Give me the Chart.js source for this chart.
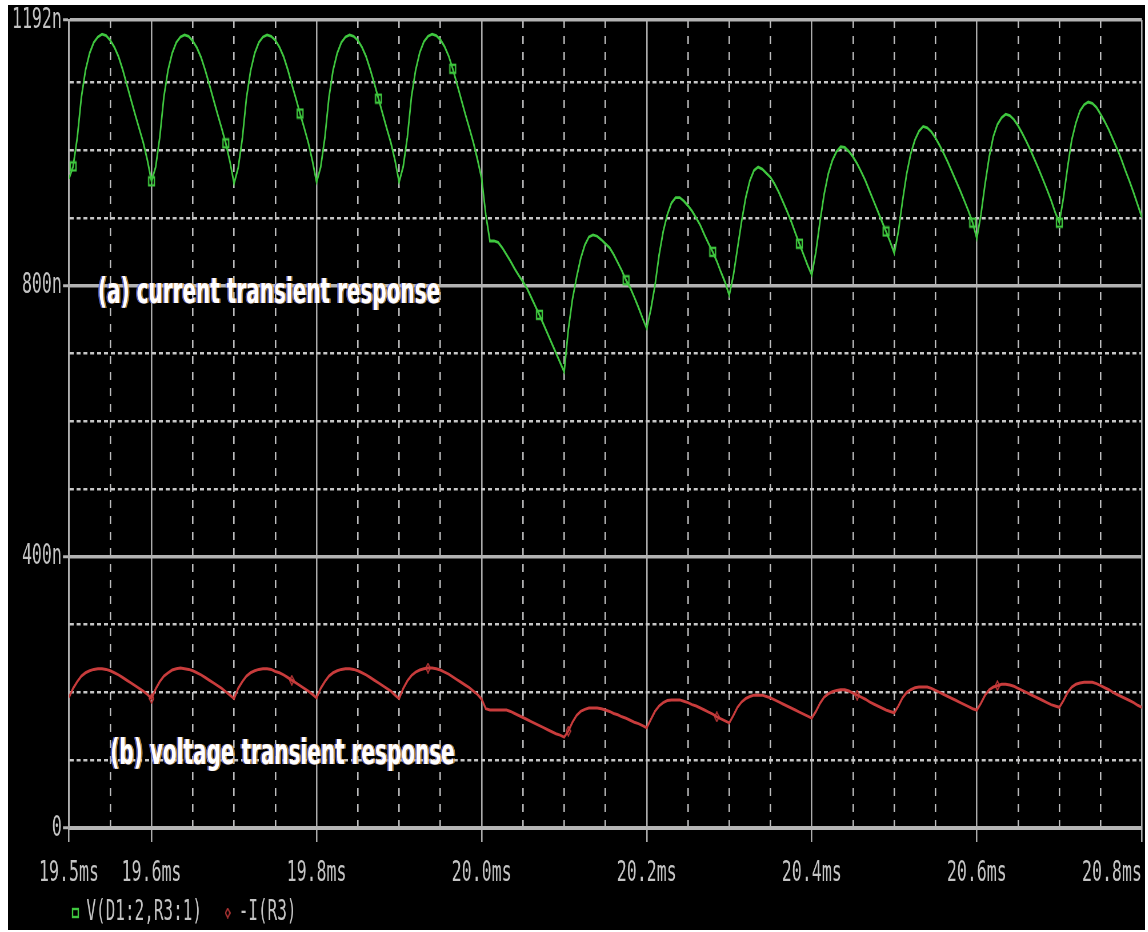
<!DOCTYPE html>
<html>
<head>
<meta charset="utf-8">
<title>Transient response</title>
<script src="https://cdn.jsdelivr.net/npm/chart.js@4.4.1/dist/chart.umd.min.js"></script>
<style>
  html, body { margin: 0; padding: 0; background: #fff; }
  #scope { position: absolute; left: 8px; top: 5px; width: 1137px; height: 925px; background: #000; overflow: hidden; }
  #scope canvas { display: block; }
</style>
</head>
<body>
<div id="scope"><canvas id="trace" width="1990" height="925" style="width:1137px;height:925px"></canvas></div>
<script>
// Sweep window and sampling of both traces, in ms
const sweepStart = 19.5;
const sweepEnd = 20.8;
const sampleStep = 0.005;

// V(D1:2,R3:1), one row per 0.1 ms (20 samples), in n
const voltageTrace = [
  958, 976, 1018, 1078, 1118, 1143, 1159, 1167, 1171, 1169, 1162, 1152, 1138, 1119, 1097, 1075, 1053, 1032, 1011, 985,
  954, 975, 1019, 1079, 1118, 1143, 1159, 1167, 1170, 1168, 1161, 1151, 1137, 1118, 1097, 1075, 1053, 1032, 1010, 983,
  951, 974, 1017, 1077, 1117, 1143, 1159, 1167, 1170, 1168, 1162, 1152, 1138, 1119, 1097, 1076, 1054, 1033, 1011, 984,
  953, 975, 1018, 1078, 1118, 1143, 1159, 1167, 1170, 1168, 1162, 1152, 1138, 1119, 1098, 1076, 1054, 1032, 1011, 985,
  953, 976, 1019, 1079, 1118, 1144, 1160, 1168, 1171, 1169, 1163, 1153, 1139, 1120, 1098, 1076, 1054, 1033, 1011, 986,
  958, 905, 866, 866, 864, 856, 846, 836, 825, 815, 806, 796, 783, 770, 757, 743, 729, 715, 701, 687,
  673, 735, 780, 812, 840, 860, 872, 875, 873, 868, 862, 856, 846, 834, 822, 808, 797, 783, 768, 752,
  737, 765, 800, 845, 880, 905, 922, 930, 930, 925, 918, 910, 900, 889, 875, 862, 850, 836, 820, 805,
  786, 815, 855, 895, 930, 955, 970, 975, 972, 966, 960, 950, 938, 924, 910, 895, 878, 862, 846, 830,
  816, 850, 895, 935, 965, 985, 998, 1005, 1004, 998, 990, 980, 968, 955, 940, 925, 910, 895, 880, 865,
  848, 880, 925, 965, 995, 1015, 1028, 1035, 1033, 1027, 1018, 1007, 995, 982, 968, 954, 940, 925, 910, 893,
  870, 905, 950, 990, 1020, 1038, 1048, 1053, 1051, 1045, 1036, 1025, 1013, 1000, 986, 972, 957, 942, 926, 908,
  893, 930, 975, 1015, 1040, 1058, 1067, 1071, 1069, 1063, 1053, 1042, 1030, 1016, 1002, 987, 970, 954, 937, 919,
  901
];

// -I(R3), same sampling, in n
const currentTrace = [
  193, 206, 216, 224, 229, 232, 234, 235, 235, 234, 232, 229, 226, 222, 218, 214, 210, 206, 202, 197,
  191, 205, 216, 224, 229, 233, 235, 236, 235, 234, 232, 229, 226, 222, 218, 214, 210, 206, 201, 196,
  191, 206, 216, 224, 229, 232, 234, 235, 235, 234, 231, 229, 226, 222, 218, 214, 210, 206, 202, 197,
  192, 206, 216, 224, 229, 232, 234, 235, 235, 234, 232, 229, 226, 222, 218, 214, 210, 206, 202, 196,
  191, 206, 217, 225, 230, 233, 235, 236, 236, 235, 233, 230, 227, 223, 219, 215, 211, 207, 202, 197,
  190, 176, 174, 174, 174, 174, 174, 172, 169, 166, 163, 160, 157, 154, 151, 148, 145, 142, 139, 137,
  134, 143, 156, 166, 172, 175, 177, 177, 177, 176, 174, 172, 169, 167, 164, 162, 159, 156, 154, 151,
  148, 160, 172, 180, 185, 188, 189, 189, 189, 187, 185, 182, 180, 177, 174, 171, 168, 164, 161, 158,
  155, 166, 178, 186, 191, 194, 196, 196, 196, 194, 192, 189, 186, 183, 180, 177, 174, 171, 168, 165,
  162, 172, 184, 193, 198, 201, 203, 204, 204, 202, 199, 196, 193, 190, 186, 183, 180, 177, 174, 172,
  170, 180, 192, 200, 204, 207, 208, 208, 208, 206, 203, 200, 197, 194, 191, 188, 185, 182, 179, 176,
  174, 184, 196, 204, 208, 210, 212, 212, 211, 209, 206, 203, 200, 197, 194, 191, 188, 185, 182, 180,
  178, 188, 200, 208, 212, 214, 215, 215, 215, 213, 210, 207, 204, 200, 197, 194, 191, 188, 185, 181,
  178
];

// Where the trace symbols sit along each curve (ms)
const voltageMarkerTimes = [19.505, 19.6, 19.69, 19.78, 19.875, 19.965, 20.07, 20.175, 20.28, 20.385, 20.49, 20.595, 20.7];
const currentMarkerTimes = [19.6, 19.77, 19.935, 20.105, 20.285, 20.455, 20.625];

// Time axis grid and labels
const xGridTimes = [19.5, 19.55, 19.6, 19.65, 19.7, 19.75, 19.8, 19.85, 19.9, 19.95, 20.0, 20.05, 20.1,
  20.15, 20.2, 20.25, 20.3, 20.35, 20.4, 20.45, 20.5, 20.55, 20.6, 20.65, 20.7, 20.75, 20.8];
const xSolidTimes = [19.5, 19.6, 19.8, 20.0, 20.2, 20.4, 20.6, 20.8];
const xLabelTimes = [19.5, 19.6, 19.8, 20.0, 20.2, 20.4, 20.6, 20.8];
const xLabelTexts = ['19.5ms', '19.6ms', '19.8ms', '20.0ms', '20.2ms', '20.4ms', '20.6ms', '20.8ms'];

// Value axis grid and labels
const yGridValues = [0, 100, 200, 300, 400, 500, 600, 700, 800, 900, 1000, 1100, 1192];
const yLabelValues = [0, 400, 800, 1192];
const yLabelTexts = ['0', '400n', '800n', '1192n'];

// Captions written over the plot
const captionTexts = ['(a) current transient response', '(b) voltage transient response'];
const captionTimes = [19.535, 19.55];
const captionLevels = [774, 95];

// ---------------------------------------------------------------------------
// The bitmap is 1990 px wide but shown 1137 px wide, so everything is drawn
// horizontally compressed like the scope display. Sizes below are bitmap px.
const monoFont = '"DejaVu Sans Mono", "Liberation Mono", monospace';
const labelGrey = '#c4c4c4';
const solidGrey = '#ababab';
const dashGrey = '#bcbcbd';
const greenTrace = '#3fc63f';
const redTrace = '#c83c3c';

const near = (a, b) => Math.abs(a - b) < 1e-6;
const inList = (list, v) => list.some(t => near(t, v));

const sampleTimes = voltageTrace.map((_, i) => +(sweepStart + i * sampleStep).toFixed(3));
const indexOfTime = t => Math.round((t - sweepStart) / sampleStep);
const voltageMarks = new Set(voltageMarkerTimes.map(indexOfTime));
const currentMarks = new Set(currentMarkerTimes.map(indexOfTime));

function squareSymbol(color) {
  const c = document.createElement('canvas');
  c.width = 14; c.height = 12;
  const g = c.getContext('2d');
  g.strokeStyle = color; g.lineWidth = 2.4;
  g.strokeRect(2, 2, 10, 8);
  return c;
}
function diamondSymbol(color) {
  const c = document.createElement('canvas');
  c.width = 10; c.height = 11;
  const g = c.getContext('2d');
  g.strokeStyle = color; g.lineWidth = 1.8;
  g.beginPath();
  g.moveTo(5, 1); g.lineTo(9, 5.5); g.lineTo(5, 10); g.lineTo(1, 5.5); g.closePath();
  g.stroke();
  return c;
}
const greenSymbol = squareSymbol(greenTrace);
const redSymbol = diamondSymbol(redTrace);

const captionPlugin = {
  id: 'captions',
  afterDraw(chart) {
    const { ctx, scales: { x, y } } = chart;
    ctx.save();
    ctx.font = 'bold 35px "DejaVu Sans", sans-serif';
    ctx.textAlign = 'left';
    ctx.textBaseline = 'alphabetic';
    captionTexts.forEach((text, i) => {
      const px = x.getPixelForValue(captionTimes[i]);
      const py = y.getPixelForValue(captionLevels[i]);
      ctx.fillStyle = 'rgba(90,120,255,0.75)';
      ctx.fillText(text, px - 2.5, py);
      ctx.fillStyle = 'rgba(255,176,64,0.75)';
      ctx.fillText(text, px + 2.5, py);
      ctx.fillStyle = '#ffffff';
      ctx.fillText(text, px, py);
    });
    ctx.restore();
  }
};

new Chart(document.getElementById('trace'), {
  type: 'line',
  data: {
    datasets: [
      {
        label: 'V(D1:2,R3:1)',
        data: voltageTrace.map((v, i) => ({ x: sampleTimes[i], y: v })),
        borderColor: greenTrace,
        backgroundColor: '#000',
        borderWidth: 2.8,
        pointStyle: greenSymbol,
        pointRadius: c => voltageMarks.has(c.dataIndex) ? 5 : 0,
        pointHoverRadius: 0,
        tension: 0,
        fill: false
      },
      {
        label: '-I(R3)',
        data: currentTrace.map((v, i) => ({ x: sampleTimes[i], y: v })),
        borderColor: redTrace,
        backgroundColor: '#000',
        borderWidth: 3,
        pointStyle: redSymbol,
        pointRadius: c => currentMarks.has(c.dataIndex) ? 5 : 0,
        pointHoverRadius: 0,
        tension: 0,
        fill: false
      }
    ]
  },
  options: {
    responsive: false,
    devicePixelRatio: 1,
    animation: false,
    events: [],
    layout: { padding: { top: 15, right: 5.5, bottom: -7, left: 0 } },
    scales: {
      x: {
        type: 'linear',
        min: sweepStart,
        max: sweepEnd,
        afterBuildTicks: axis => { axis.ticks = xGridTimes.map(v => ({ value: v })); },
        afterFit: axis => { axis.height = 65; axis.paddingLeft = 0; axis.paddingRight = 0; },
        grid: {
          color: c => (c.tick && inList(xSolidTimes, c.tick.value)) ? solidGrey : dashGrey,
          lineWidth: 2.6,
          drawTicks: true,
          tickLength: 14,
          tickWidth: 2.6,
          tickColor: c => (c.tick && inList(xLabelTimes, c.tick.value)) ? solidGrey : 'rgba(0,0,0,0)'
        },
        border: {
          display: true, color: '#b5b5b5', width: 3,
          dash: c => (c.tick && !inList(xSolidTimes, c.tick.value)) ? [8, 8] : []
        },
        ticks: {
          autoSkip: false, maxRotation: 0, minRotation: 0, padding: 14,
          color: labelGrey,
          font: { family: monoFont, size: 29 },
          callback: (value, index, ticks) => {
            const k = xLabelTimes.findIndex(t => near(t, value));
            if (k < 0) return '';
            // the right-most label ends on its tick instead of being centred
            return index === ticks.length - 1 ? xLabelTexts[k] + '      ' : xLabelTexts[k];
          }
        }
      },
      y: {
        type: 'linear',
        min: 0,
        max: 1192,
        afterBuildTicks: axis => { axis.ticks = yGridValues.map(v => ({ value: v })); },
        afterFit: axis => { axis.width = 106.75; axis.paddingTop = 0; axis.paddingBottom = 0; },
        grid: {
          color: c => (c.tick && inList(yLabelValues, c.tick.value)) ? '#b3b3b3' : '#c6c6c6',
          lineWidth: c => (c.tick && inList(yLabelValues, c.tick.value)) ? 3.5 : 2.6,
          drawTicks: true,
          tickLength: 10.5,
          tickWidth: 3,
          tickColor: c => (c.tick && inList(yLabelValues, c.tick.value)) ? '#b3b3b3' : 'rgba(0,0,0,0)'
        },
        border: {
          display: true, color: '#b0b0b0', width: 3,
          dash: c => (c.tick && !inList(yLabelValues, c.tick.value)) ? [7, 5] : []
        },
        ticks: {
          autoSkip: false, padding: 2,
          color: labelGrey,
          font: { family: monoFont, size: 29 },
          callback: value => {
            const k = yLabelValues.findIndex(v => near(v, value));
            return k < 0 ? '' : yLabelTexts[k];
          }
        }
      }
    },
    plugins: {
      tooltip: { enabled: false },
      legend: {
        display: true,
        position: 'bottom',
        align: 'start',
        fullSize: false,
        labels: {
          usePointStyle: true,
          boxWidth: 10.5,
          padding: 6,
          color: labelGrey,
          font: { family: monoFont, size: 28 },
          generateLabels: chart => {
            const items = Chart.defaults.plugins.legend.labels.generateLabels(chart);
            items.forEach((it, i) => { if (i < items.length - 1) it.text += '  '; });
            return items;
          }
        }
      }
    }
  },
  plugins: [captionPlugin]
});
</script>
</body>
</html>
